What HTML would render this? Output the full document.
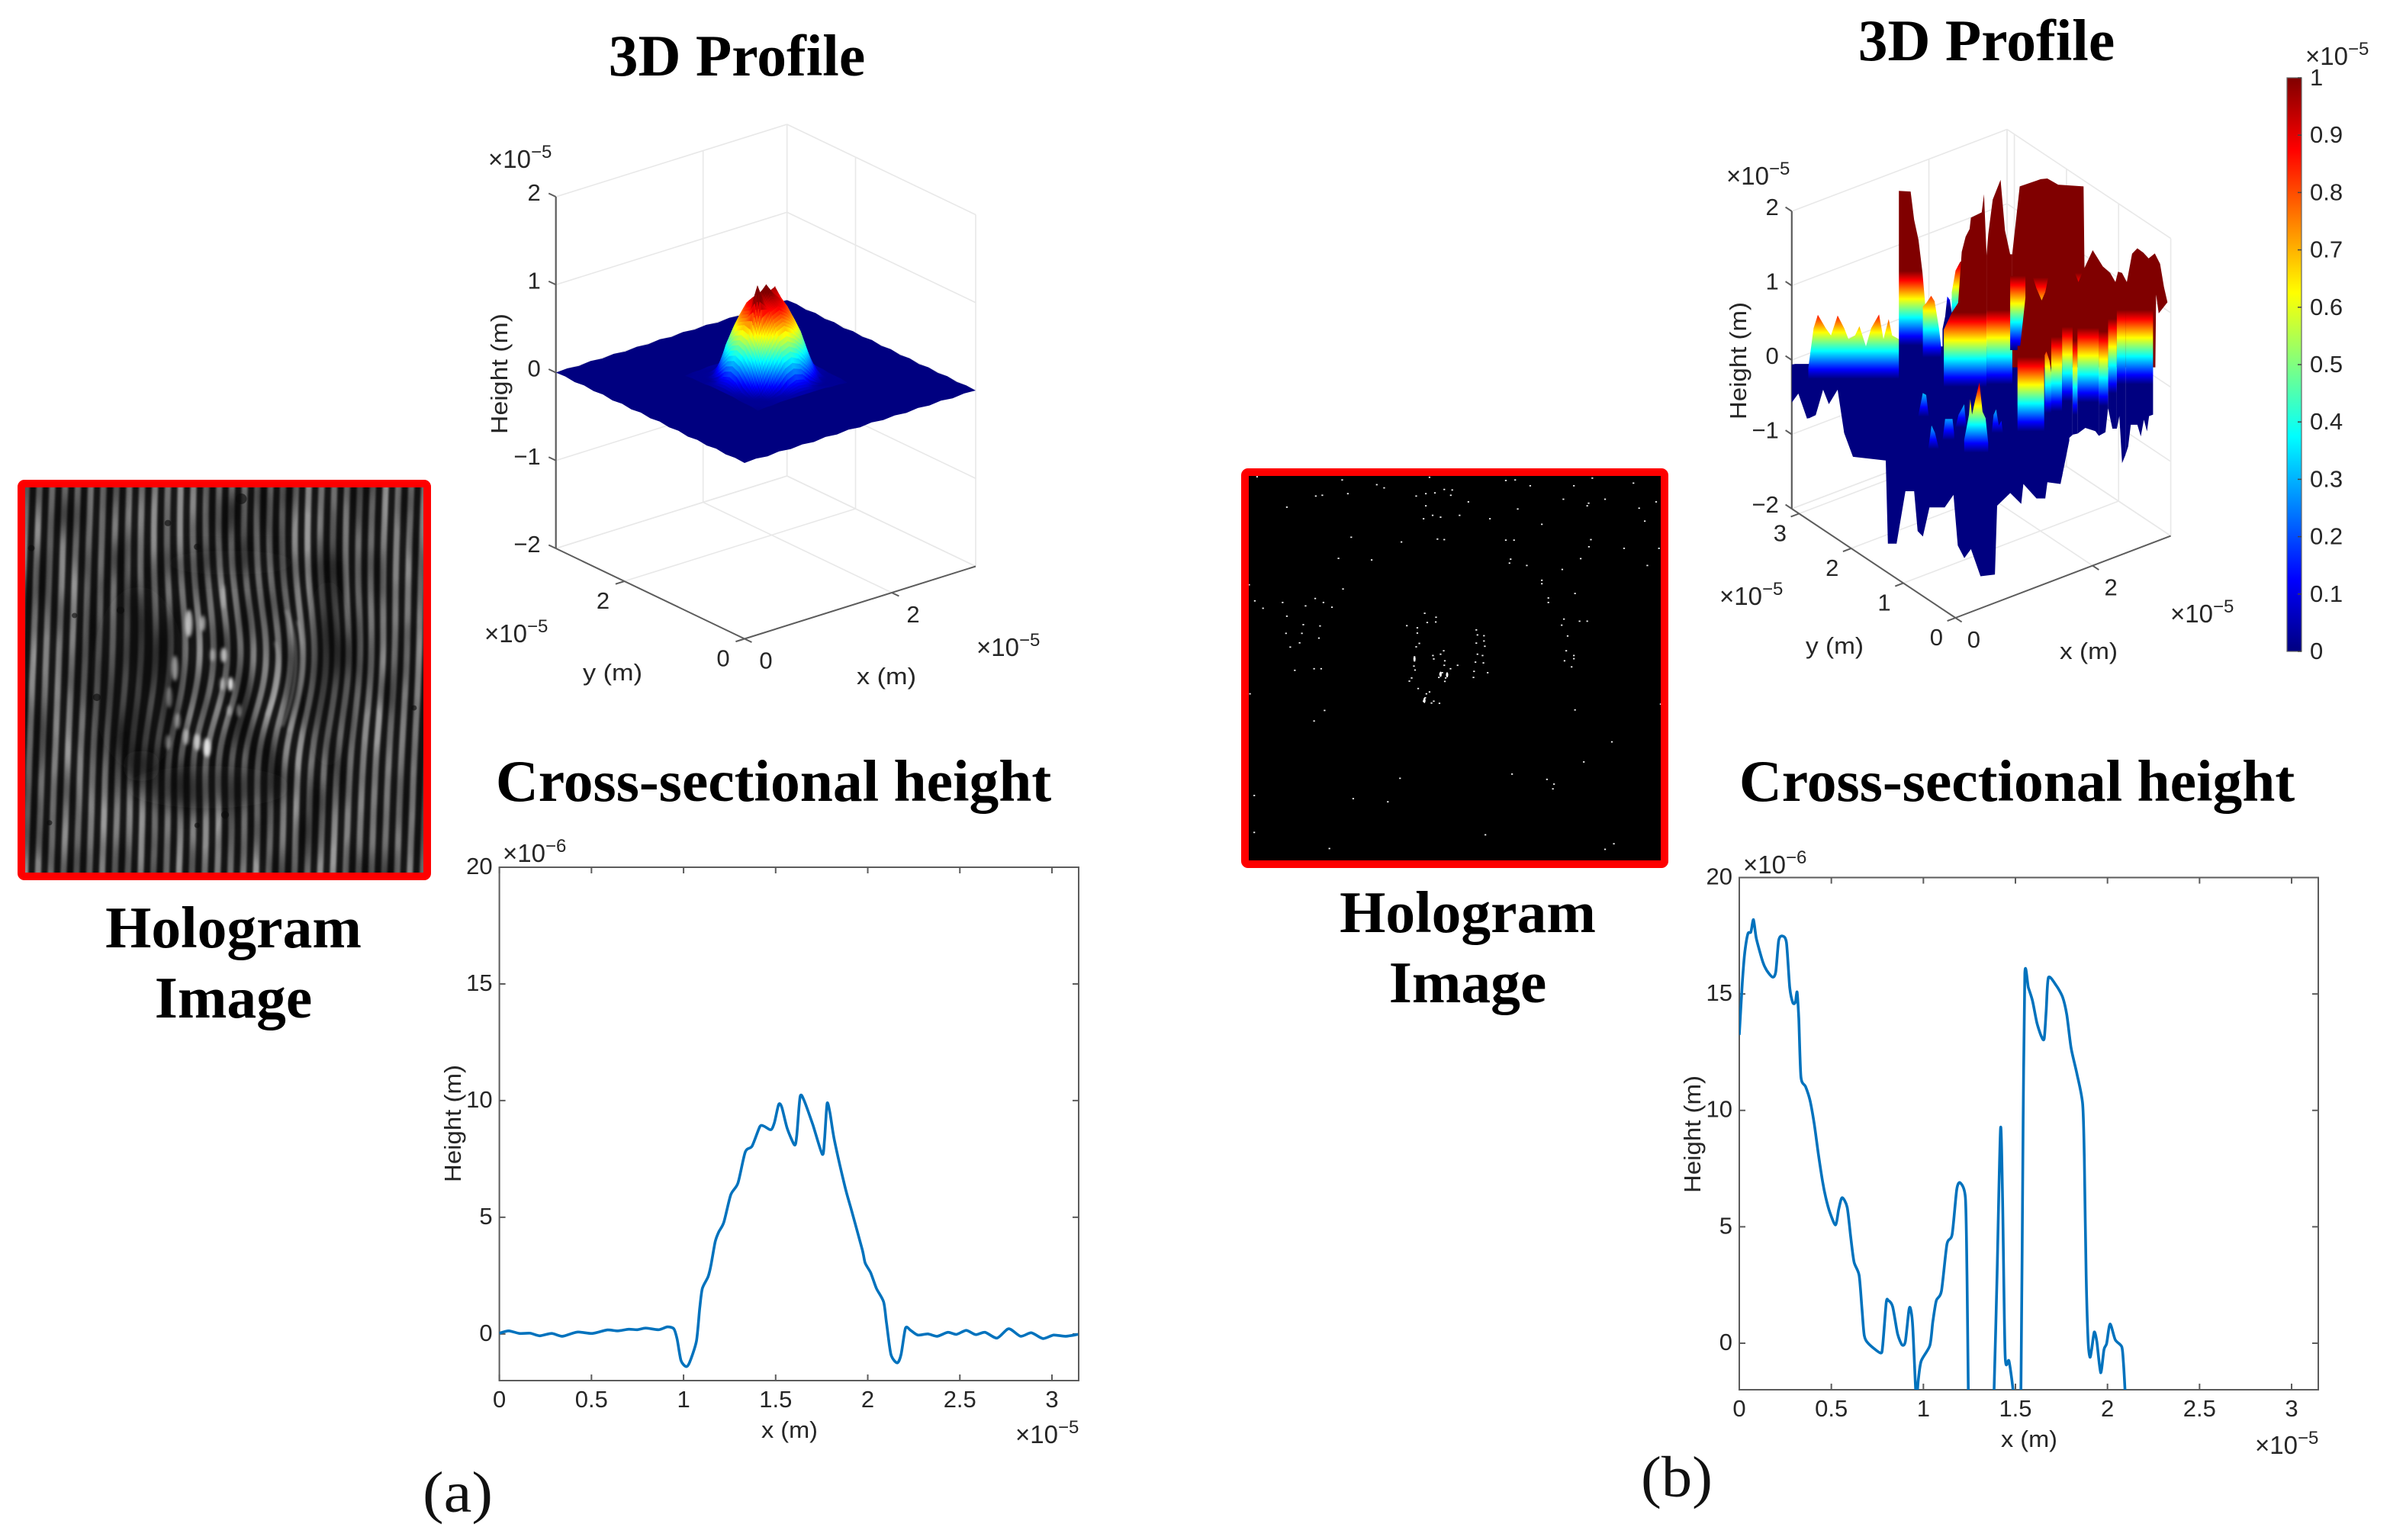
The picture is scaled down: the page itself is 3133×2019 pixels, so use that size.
<!DOCTYPE html>
<html>
<head>
<meta charset="utf-8">
<title>Hologram, 3D profile and cross-sectional height</title>
<style>
html,body{margin:0;padding:0;background:#fff;width:3133px;height:2019px;overflow:hidden}
svg{display:block}
.t{font-family:"Liberation Serif","Noto Serif CJK JP",serif;font-weight:bold;font-size:77.5px;fill:#000;text-anchor:middle}
.c{font-family:"Liberation Serif","Noto Serif CJK JP",serif;font-size:76px;fill:#111;text-anchor:middle}
.a{font-family:"Liberation Sans","Noto Sans CJK JP",sans-serif;font-size:33px;fill:#262626}
.h{font-size:31px}
.k{font-family:"Liberation Sans","Noto Sans CJK JP",sans-serif;font-size:31px;fill:#262626}
.e{font-size:24px}
</style>
</head>
<body>
<svg id="root" xmlns="http://www.w3.org/2000/svg" width="3133" height="2019" viewBox="0 0 3133 2019">
<defs id="defs">
<clipPath id="clipA"><rect x="654.6" y="1137" width="759.4" height="673"/></clipPath>
<clipPath id="clipB"><rect x="2280" y="1150.5" width="759" height="671.5"/></clipPath>
<clipPath id="clipH"><rect x="63" y="53" width="1437" height="1467"/></clipPath>
<filter id="soft" x="-5%" y="-5%" width="110%" height="110%"><feGaussianBlur stdDeviation="4"/></filter>
<filter id="softer" x="-60%" y="-60%" width="220%" height="220%"><feGaussianBlur stdDeviation="38"/></filter>
<filter id="glow" x="-80%" y="-80%" width="260%" height="260%"><feGaussianBlur stdDeviation="6"/></filter>
<filter id="mottle" x="0" y="0" width="100%" height="100%" color-interpolation-filters="sRGB"><feTurbulence type="fractalNoise" baseFrequency="0.009 0.0035" numOctaves="2" seed="7"/><feColorMatrix type="matrix" values="0 0 0 0 0 0 0 0 0 0 0 0 0 0 0 1.3 0 0 0 -.42"/></filter>
</defs>
<rect width="3133" height="2019" fill="#fff"/>

<g id="holoA"></g>
<rect x="28" y="634" width="532" height="515" rx="4" fill="none" stroke="#fe0000" stroke-width="10"/>
<g id="holoB"></g>
<rect x="1632" y="619" width="550" height="514" rx="4" fill="none" stroke="#fe0000" stroke-width="10"/>

<g id="plot3dA"></g>
<g id="plot3dB"></g>
<g id="colorbar"></g>
<g id="lineA"></g>
<g id="lineB"></g>

<text class="t" x="966" y="99">3D Profile</text>
<text class="t" x="2604" y="79">3D Profile</text>
<text class="t" x="1014" y="1050">Cross-sectional height</text>
<text class="t" x="2644" y="1050">Cross-sectional height</text>
<text class="t" x="306" y="1242">Hologram</text>
<text class="t" x="306" y="1334">Image</text>
<text class="t" x="1924" y="1222">Hologram</text>
<text class="t" x="1924" y="1314">Image</text>
<text class="c" x="600" y="1982" textLength="92" lengthAdjust="spacingAndGlyphs">(a)</text>
<text class="c" x="2198" y="1962" textLength="94" lengthAdjust="spacingAndGlyphs">(b)</text>

<text class="a" x="640" y="220">×10<tspan class="e" dy="-13">−5</tspan></text>
<text class="a" x="635" y="842">×10<tspan class="e" dy="-13">−5</tspan></text>
<text class="a" x="1280" y="860">×10<tspan class="e" dy="-13">−5</tspan></text>
<text class="a h" transform="translate(665,490) rotate(-90)" text-anchor="middle" textLength="158" lengthAdjust="spacingAndGlyphs">Height (m)</text>
<text class="a h" x="803" y="892" text-anchor="middle" textLength="78" lengthAdjust="spacingAndGlyphs">y (m)</text>
<text class="a h" x="1162" y="897" text-anchor="middle" textLength="78" lengthAdjust="spacingAndGlyphs">x (m)</text>

<text class="a" x="2263" y="242">×10<tspan class="e" dy="-13">−5</tspan></text>
<text class="a" x="2254" y="793">×10<tspan class="e" dy="-13">−5</tspan></text>
<text class="a" x="2845" y="816">×10<tspan class="e" dy="-13">−5</tspan></text>
<text class="a h" transform="translate(2289,473) rotate(-90)" text-anchor="middle" textLength="154" lengthAdjust="spacingAndGlyphs">Height (m)</text>
<text class="a h" x="2405" y="857" text-anchor="middle" textLength="76" lengthAdjust="spacingAndGlyphs">y (m)</text>
<text class="a h" x="2738" y="864" text-anchor="middle" textLength="76" lengthAdjust="spacingAndGlyphs">x (m)</text>
<text class="a" x="3022" y="85">×10<tspan class="e" dy="-13">−5</tspan></text>

<text class="a" x="659" y="1130">×10<tspan class="e" dy="-13">−6</tspan></text>
<text class="a" x="1331" y="1892">×10<tspan class="e" dy="-13">−5</tspan></text>
<text class="a h" x="1035" y="1885" text-anchor="middle" textLength="74" lengthAdjust="spacingAndGlyphs">x (m)</text>
<text class="a h" transform="translate(604,1473) rotate(-90)" text-anchor="middle" textLength="154" lengthAdjust="spacingAndGlyphs">Height (m)</text>

<text class="a" x="2285" y="1145">×10<tspan class="e" dy="-13">−6</tspan></text>
<text class="a" x="2956" y="1906">×10<tspan class="e" dy="-13">−5</tspan></text>
<text class="a h" x="2660" y="1897" text-anchor="middle" textLength="74" lengthAdjust="spacingAndGlyphs">x (m)</text>
<text class="a h" transform="translate(2229,1487) rotate(-90)" text-anchor="middle" textLength="154" lengthAdjust="spacingAndGlyphs">Height (m)</text>
</svg>

<script>
/* ---------- tick data ---------- */
const lineXTicks=[0,0.5,1,1.5,2,2.5,3];
const lineXLabels=['0','0.5','1','1.5','2','2.5','3'];
const lineYTicks=[0,5,10,15,20];
const lineYLabels=['0','5','10','15','20'];
const zTicks=[-2,-1,0,1,2];
const zLabels=['−2','−1','0','1','2'];
const xTicks3dA=[0,2];
const yTicks3dA=[0,2];
const xTicks3dB=[0,2];
const yTicks3dB=[0,1,2,3];
const colorbarTicks=[0,0.1,0.2,0.3,0.4,0.5,0.6,0.7,0.8,0.9,1];
const colorbarLabels=['0','0.1','0.2','0.3','0.4','0.5','0.6','0.7','0.8','0.9','1'];

/* ---------- cross-section (a): x in 1e-5 m, height in 1e-6 m ---------- */
const sectionAX=[0,.051,.109,.167,.219,.284,.342,.423,.505,.586,.644,.702,.749,.795,.865,.912,.947,.965,.986,1.014,1.033,1.07,1.088,1.102,1.133,1.149,1.172,1.191,1.219,1.256,1.295,1.335,1.372,1.414,1.435,1.474,1.493,1.516,1.533,1.563,1.602,1.614,1.633,1.656,1.702,1.753,1.765,1.779,1.795,1.819,1.877,1.912,1.97,1.986,2.016,2.047,2.086,2.102,2.126,2.16,2.181,2.205,2.233,2.272,2.326,2.377,2.435,2.481,2.535,2.586,2.637,2.702,2.765,2.83,2.888,2.951,3.009,3.074,3.142];
const sectionAH=[.03,.13,.02,.03,-.08,.02,-.1,.08,.02,.17,.13,.2,.18,.25,.18,.3,.22,-.22,-1.14,-1.4,-1.22,-.3,1.12,1.95,2.45,2.95,3.96,4.37,4.79,5.96,6.46,7.8,8.05,8.88,8.91,8.75,9.05,9.83,9.72,8.8,8.1,8.46,10.17,9.97,8.96,7.7,8.3,9.87,9.47,8.3,6.29,5.29,3.62,3.04,2.62,1.95,1.37,.45,-.88,-1.24,-.88,.25,.15,-.05,0,-.1,.07,-.02,.15,-.03,.07,-.18,.22,-.1,.05,-.2,-.05,-.1,-.02];

/* ---------- cross-section (b) ---------- */
const sectionBX=[0,.016,.03,.047,.063,.077,.093,.128,.151,.181,.198,.214,.233,.256,.274,.291,.305,.314,.323,.335,.36,.384,.407,.43,.453,.47,.493,.523,.54,.558,.586,.605,.623,.651,.667,.679,.702,.767,.779,.798,.809,.833,.86,.884,.902,.921,.93,.942,.958,.965,.972,.988,1.035,1.051,1.07,1.098,1.128,1.156,1.181,1.2,1.228,1.237,1.244,1.251,1.372,1.384,1.4,1.419,1.43,1.444,1.465,1.488,1.5,1.516,1.53,1.542,1.551,1.57,1.593,1.616,1.64,1.656,1.667,1.679,1.721,1.756,1.779,1.802,1.833,1.865,1.874,1.884,1.895,1.905,1.914,1.928,1.942,1.963,1.981,1.995,2.014,2.042,2.077,2.086,2.095,2.107];
const sectionBH=[13.24,15.45,16.79,17.59,17.66,18.19,17.37,16.37,15.99,15.72,15.95,17.29,17.49,17.21,15.28,14.62,14.65,15.08,13.95,11.44,11.02,10.43,9.43,8.09,6.92,6.25,5.59,5.08,5.75,6.25,5.84,4.58,3.49,2.91,1.4,.32,-.02,-.42,-.1,1.74,1.84,1.57,.4,-.07,.07,1.4,1.49,.74,-1.99,-2.3,-1.6,-.77,-.1,.9,1.82,2.24,4.25,4.67,6.59,6.89,6.25,2.91,-1.99,-3.8,-3.8,-1.99,2.91,9.23,6.25,-.52,-.77,-2.1,-3.8,-3.8,-1.99,9.6,15.87,15.28,14.7,13.78,13.19,13.08,14.28,15.7,15.37,14.87,14.11,12.69,11.6,10.27,7.93,2.91,.07,-.6,-.27,.48,.07,-1.27,-.27,-.02,.82,.15,-.15,-.77,-1.99,-3.8];

/* ---------- surface (a): height in 1e-5 m over x,y in 1e-5 m ---------- */
const bumpX=[1,1.1,1.2,1.3,1.4,1.5,1.6,1.7,1.8,1.9,2,2.1,2.2];
const bumpY=[1,1.1,1.2,1.3,1.4,1.5,1.6,1.7,1.8,1.9,2,2.1,2.2];
const bumpRow0=[.01,.02,.02,.03,.03,.03,.03,.03,.03,.03,.02,.02,.01];
const bumpRow1=[.02,.02,.02,.03,.05,.12,.16,.14,.05,.02,.02,.02,.02];
const bumpRow2=[.02,.02,.03,.12,.28,.41,.45,.4,.3,.14,.03,.02,.02];
const bumpRow3=[.02,.03,.14,.38,.54,.67,.71,.65,.56,.37,.13,.03,.02];
const bumpRow4=[.03,.05,.3,.56,.73,.86,.9,.83,.71,.54,.28,.05,.03];
const bumpRow5=[.03,.13,.4,.68,1.15,.9,.95,.93,.82,.64,.41,.12,.03];
const bumpRow6=[.03,.16,.44,.7,.88,.95,1.08,.95,.88,.7,.44,.16,.03];
const bumpRow7=[.03,.13,.4,.66,.84,.93,.95,.93,.97,.66,.4,.13,.03];
const bumpRow8=[.03,.05,.29,.55,.72,.84,.88,.84,.72,.55,.29,.05,.03];
const bumpRow9=[.02,.02,.13,.38,.55,.66,.7,.66,.55,.38,.13,.02,.02];
const bumpRow10=[.02,.02,.03,.13,.29,.41,.44,.41,.29,.13,.03,.02,.02];
const bumpRow11=[.02,.02,.02,.02,.05,.13,.16,.13,.05,.02,.02,.02,.02];
const bumpRow12=[.01,.02,.02,.03,.03,.03,.03,.03,.03,.03,.02,.02,.01];
const planeRipple=[0,.008,-.006,.009,-.007,.006,-.009,.007,-.005,.009,-.006,.008,-.007,.006,-.008,.007,-.005,.008,-.006,.007,0];

/* ---------- surface (b): height sections through the surface,
   each runs along x while y follows y0 + viewSlope*x; values in 1e-5 m ---------- */
const pitY=3.53;
const pitX=[.635,1.122,2.306,2.765];
const pitTop=[-.584,0,0,-.292];
const pitBotX=[.635,.676,.757,1.061,1.081,1.162,1.244,1.325,1.357,1.406,1.467,1.609,1.69,1.73,1.791,1.852,1.941,2.075,2.095,2.217,2.319,2.339,2.461,2.542,2.562,2.684,2.765];
const pitBot=[-.584,-1.168,-1.484,-1.533,-2.652,-2.652,-1.946,-1.946,-2.482,-2.555,-2.165,-2.165,-1.995,-2.676,-2.847,-2.725,-3.09,-3.066,-2.141,-1.971,-2.117,-1.849,-2.044,-2.044,-1.825,-1.849,-1.265];

const farEdgeY=3.53;
const farEdgeX=[.189,.221,.351];
const farEdgeTop=[-.243,-.234,-.234];
const farEdgeBotX=[.189,.25,.331,.351];
const farEdgeBot=[-.754,-.633,-.973,-.949];

const backLowY=2.598;
const backLowX=[-.109,-.06,-.02,.053,.102,.163,.224,.264,.325,.366,.426,.475,.548,.589,.637,.67,.731,.771];
const backLowTop=[.146,.681,.861,.681,.584,.852,.681,.535,.584,.706,.438,.681,.866,.535,.803,.584,.535,.535];
const backLowBotX=[-.109,-.04,.029,.082,.163,.224,.771];
const backLowBot=[-.535,-.487,-.146,-.341,-.146,-.73,-.827];

const towerY=3.561;
const towerX=[1.198,1.307,1.34,1.38,1.417,1.453];
const towerTop=[2.078,2.069,1.69,1.42,.983,.375];
const towerBotX=[1.198,1.453];
const towerBot=[-.6,-.6];

const shoulderY=3.219;
const shoulderX=[1.255,1.287,1.332,1.364,1.405,1.425];
const shoulderTop=[.681,.73,.827,.754,.389,.146];
const shoulderBotX=[1.255,1.425];
const shoulderBot=[-.438,-.438];

const blueSpikeY=4.658;
const blueSpikeX=[2.134,2.159,2.179,2.203,2.22,2.244];
const blueSpikeTop=[-.292,-.122,.146,.097,-.073,-.292];
const blueSpikeBotX=[2.134,2.244];
const blueSpikeBot=[-.6,-.6];

const flankY=3.913;
const flankX=[1.859,1.895,1.936,1.964];
const flankTop=[.55,.842,.954,.988];
const flankBotX=[1.859,1.964];
const flankBot=[.015,.015];

const plateauY=-.197;
const plateauX=[.432,.501,.696,.757,.858,1.094,1.102,1.179,1.272,1.341,1.39,1.414,1.451,1.495,1.544,1.593,1.649,1.698,1.755,1.804,1.84,1.873];
const plateauTop=[2.993,3.893,3.99,4,3.917,3.893,2.798,3.036,2.818,2.73,2.608,2.745,2.73,2.608,2.988,3.061,3.002,2.925,2.993,2.852,2.54,2.336];
const plateauBotX=[.432,1.76,1.767,1.791,1.873];
const plateauBot=[1.46,1.46,2.438,2.185,2.336];

const spireLeftY=2.37;
const spireLeftX=[1.039,1.112,1.172,1.205,1.241,1.278,1.29,1.391,1.412,1.436];
const spireLeftTop=[.769,.993,1.129,1.815,2.019,2.122,2.273,2.345,2.589,1.762];
const spireLeftBotX=[1.039,1.436];
const spireLeftBot=[-.477,-.477];

const spireRightY=2.443;
const spireRightX=[1.471,1.487,1.528,1.601,1.642,1.69,1.71];
const spireRightTop=[1.727,2.019,2.482,2.749,2.068,1.747,1.747];
const spireRightBotX=[1.471,1.71];
const spireRightBot=[-.511,-.511];

const gapColumnY=3.426;
const gapColumnX=[2.166,2.308];
const gapColumnTop=[.998,.998];
const gapColumnBotX=[2.166,2.255,2.308];
const gapColumnBot=[0,0,.706];

const pocketY=3.375;
const pocketX=[2.353,2.495];
const pocketTop=[.998,.998];
const pocketBotX=[2.353,2.386,2.434,2.467,2.495];
const pocketBot=[.998,.852,.691,.803,.998];

const notchY=3.509;
const notchX=[2.808,2.873];
const notchTop=[.993,.993];
const notchBotX=[2.808,2.84,2.873];
const notchBot=[.993,.876,.993];

const hump1Y=1.512;
const hump1X=[.347,.375,.428,.46,.493];
const hump1Top=[-.219,-.073,.316,.292,-.107];
const hump2Y=.58;
const hump2X=[.03,.058,.09,.127];
const hump2Top=[.024,.316,.219,0];
const hump3Y=.84;
const hump3X=[.285,.31,.379,.403];
const hump3Top=[-.024,.282,.282,-.024];
const hump4Y=1.2;
const hump4X=[.569,.609,.662,.683];
const hump4Top=[-.073,.17,.311,-.024];
const peakY=.476;
const peakX=[.311,.356,.368,.384,.413,.453,.482,.51,.534];
const peakTop=[.17,.511,.72,.511,.706,.944,.55,.462,.136];
const hump5Y=1.045;
const hump5X=[.835,.859,.883,.908,.932,.96];
const hump5Top=[-.097,.243,.316,.097,.161,-.146];

const wall1Y=1.087;
const wall1X=[1.102,1.35];
const wall1Top=[1.15,1.15];
const wall1Bot=[-.603,-.603];
const wall1bY=1.615;
const wall1bX=[1.61,1.626,1.654,1.675];
const wall1bTop=[.779,.827,.706,.511];
const wall1bBotX=[1.61,1.675];
const wall1bBot=[-.852,-.852];
const wall2Y=1.667;
const wall2X=[1.696,1.797];
const wall2Top=[1.15,1.15];
const wall2Bot=[-.876,-.876];
const wall3Y=1.956;
const wall3X=[1.937,2.034];
const wall3Top=[1.15,1.15];
const wall3BotX=[1.937,1.982,2.034];
const wall3Bot=[-1.012,-.521,-.453];
const wall3bY=1.563;
const wall3bX=[1.844,1.889];
const wall3bTop=[1.15,1.15];
const wall3bBot=[-.268,-.253];
const wall4Y=1.925;
const wall4X=[2.064,2.263];
const wall4Top=[1.15,1.15];
const wall4BotX=[2.064,2.137,2.23,2.263];
const wall4Bot=[-.423,-.345,-.389,-.453];
const wall5Y=1.822;
const wall5X=[2.213,2.298];
const wall5Top=[1.15,1.15];
const wall5BotX=[2.213,2.274,2.298];
const wall5Bot=[-.404,-.355,-.034];
const wall6Y=2.184;
const wall6X=[2.474,2.555];
const wall6Top=[1.15,1.15];
const wall6BotX=[2.474,2.514,2.555];
const wall6Bot=[-.204,-.477,-.477];
const wall7Y=2.443;
const wall7X=[2.68,2.761];
const wall7Top=[1.15,1.15];
const wall7BotX=[2.68,2.704,2.729,2.761];
const wall7Bot=[-.599,-.428,-1.061,-.949];
const wall8Y=2.443;
const wall8X=[2.761,3.017];
const wall8Top=[1.15,1.12];
const wall8BotX=[2.761,2.786,2.81,2.871,2.903,2.932,2.96,2.98,3.017];
const wall8Bot=[-.949,-.837,-.545,-.545,-.701,-.477,-.633,-.428,-.409];

/* ---------- thresholded hologram speckle (image coordinates) ---------- */
const specklePoints=[[75,58],[375,70],[683,60],[952,72],[985,70],[1257,63],[497,88],[523,100],[735,106],[763,108],[1038,92],[1192,92],[1402,82],[282,131],[305,128],[395,122],[636,131],[670,122],[702,119],[758,128],[1155,143],[1302,143],[1244,158],[1239,168],[1482,153],[180,173],[670,168],[820,153],[994,180],[1422,177],[694,204],[722,211],[789,204],[662,217],[896,217],[1442,226],[1079,238],[407,287],[584,305],[711,294],[735,296],[952,298],[981,298],[1252,296],[1245,323],[1369,329],[1492,329],[362,367],[479,373],[969,370],[965,385],[1026,394],[1216,368],[1451,394],[1151,409],[1079,450],[1079,463],[47,467],[378,483],[1196,500],[1102,517],[1102,534],[67,528],[280,519],[165,534],[309,534],[246,547],[339,552],[96,556],[180,586],[238,618],[297,623],[177,651],[233,651],[293,669],[225,687],[192,703],[208,791],[276,785],[301,785],[1157,597],[1149,620],[1212,605],[1239,605],[1170,661],[1165,717],[1192,735],[1192,747],[1159,755],[1184,778],[50,880],[313,943],[276,983],[1196,941],[1498,919],[1326,1062],[1227,1138],[974,1184],[579,1200],[1097,1204],[1122,1222],[1118,1240],[65,1265],[414,1277],[536,1289],[65,1405],[880,1414],[330,1466],[1333,1448],[1302,1469],[666,575],[706,590],[675,610],[705,608],[603,622],[640,630],[640,650],[848,638],[852,657],[875,660],[875,680],[878,700],[647,689],[848,688],[636,702],[733,717],[722,730],[695,735],[698,748],[870,735],[852,730],[630,740],[630,755],[628,775],[737,755],[735,772],[782,772],[845,760],[873,763],[757,785],[632,790],[840,795],[888,800],[720,805],[728,800],[745,805],[716,818],[740,820],[620,820],[612,832],[838,818],[737,833],[643,860],[683,873],[672,880],[668,895],[662,908],[690,915],[698,908],[718,916]];
const speckleBlobs=[[722,806],[745,808],[630,748],[665,905]];

/* ---------- hologram fringe image features (image coordinates) ---------- */
const darkZones=[[470,780,170,350,.45],[1150,760,90,360,.42],[720,1190,300,80,.5],[800,340,260,45,.4],[480,1110,70,60,.75]];
const brightBlobs=[[650,570,13,52,.75],[700,570,9,30,.65],[775,690,11,28,.75],[735,690,9,24,.5],[800,800,10,26,.95],[770,800,8,24,.6],[600,740,11,48,.6],[580,850,10,40,.4],[715,1040,13,36,.9],[680,1020,12,32,.7],[640,1000,11,30,.55],[575,1020,9,28,.4],[610,940,10,30,.45],[830,900,8,24,.45],[795,900,8,20,.45],[775,470,7,46,.35]];
const brightArcs=['M1000 520 Q1075 720 985 960','M1040 560 Q1090 730 1010 980','M960 640 Q1000 760 930 920'];
const pitMarks=[[838,98,20],[85,285,12],[575,190,12],[680,280,12],[405,520,14],[320,850,14],[780,1295,14],[680,1335,10],[150,1325,10],[1458,890,10],[240,540,10]];

/* ---------- helpers ---------- */
const NS='http://www.w3.org/2000/svg';
function mk(tag,attrs,parent){
  const e=document.createElementNS(NS,tag);
  for(const k in attrs)e.setAttribute(k,attrs[k]);
  if(parent)parent.appendChild(e);
  return e;
}
function clamp(v){return Math.max(0,Math.min(1,v));}
function jet(t){
  t=clamp(t);
  const r=clamp(1.5-Math.abs(4*t-3)),g=clamp(1.5-Math.abs(4*t-2)),b=clamp(1.5-Math.abs(4*t-1));
  return 'rgb('+Math.round(r*255)+','+Math.round(g*255)+','+Math.round(b*255)+')';
}
function addJetStops(grad){
  for(let i=0;i<=24;i++){
    mk('stop',{offset:i/24,'stop-color':jet(i/24)},grad);
  }
}
const defs=document.getElementById('defs');
const AXIS='#5c5c5c',GRID='#e8e8e8';

/* ---------- line charts ---------- */
function smoothPath(pts){
  let d='M'+pts[0][0].toFixed(1)+' '+pts[0][1].toFixed(1);
  for(let i=0;i<pts.length-1;i++){
    const p0=pts[Math.max(0,i-1)],p1=pts[i],p2=pts[i+1],p3=pts[Math.min(pts.length-1,i+2)];
    d+=' C'+(p1[0]+(p2[0]-p0[0])/8).toFixed(1)+' '+(p1[1]+(p2[1]-p0[1])/8).toFixed(1)+' '+(p2[0]-(p3[0]-p1[0])/8).toFixed(1)+' '+(p2[1]-(p3[1]-p1[1])/8).toFixed(1)+' '+p2[0].toFixed(1)+' '+p2[1].toFixed(1);
  }
  return d;
}
function drawLineChart(g,L,R,T,B,xs,hs,clip){
  const xS=v=>L+v/3.145*(R-L);
  const yS=v=>B-(v+2)/22*(B-T);
  const frame=mk('rect',{x:L,y:T,width:R-L,height:B-T,fill:'none',stroke:AXIS,'stroke-width':2},g);
  
  
  lineXTicks.forEach((v,i)=>{
    const x=xS(v);
    const t1=mk('path',{d:'M'+x+' '+B+'V'+(B-8)+'M'+x+' '+T+'V'+(T+8),stroke:AXIS,'stroke-width':2,fill:'none'},g);
    
    
    const lab=mk('text',{class:'k',x:x,y:B+35,'text-anchor':'middle'},g);
    lab.textContent=lineXLabels[i];
    
    
  });
  lineYTicks.forEach((v,i)=>{
    const y=yS(v);
    const t2=mk('path',{d:'M'+L+' '+y+'H'+(L+8)+'M'+R+' '+y+'H'+(R-8),stroke:AXIS,'stroke-width':2,fill:'none'},g);
    
    
    const lab=mk('text',{class:'k',x:L-9,y:y+9,'text-anchor':'end'},g);
    lab.textContent=lineYLabels[i];
    
    
  });
  const pts=xs.map((x,i)=>[xS(x),yS(hs[i])]);
  const line=mk('path',{d:smoothPath(pts),fill:'none',stroke:'#0072bd','stroke-width':3.6,'stroke-linejoin':'round','clip-path':'url(#'+clip+')'},g);
  
  
}
drawLineChart(document.getElementById('lineA'),654.6,1414,1137,1810,sectionAX,sectionAH,'clipA');
drawLineChart(document.getElementById('lineB'),2280,3039,1150.5,1822,sectionBX,sectionBH,'clipB');

/* ---------- 3D axes ---------- */
const XMAX=3.14,YMAX=3.14;
function projector(ox,oy,xdx,xdy,ydx,ydy,zu){
  return (x,y,z)=>[ox+x/XMAX*xdx+y/YMAX*ydx, oy+x/XMAX*xdy+y/YMAX*ydy-(z+2)*zu];
}
const projA=projector(976,837.5,303,-95,-247.3,-118.5,115.25);
const projB=projector(2563.4,810,282.2,-107.4,-214.6,-143,97.5);
function seg(g,p,a,b,color,w,name){
  const A=p(a[0],a[1],a[2]),B=p(b[0],b[1],b[2]);
  const l=mk('line',{x1:A[0],y1:A[1],x2:B[0],y2:B[1],stroke:color,'stroke-width':w},g);
  
  
}
function drawAxes3d(g,p,xT,yT,xOff,yOff,zOff){
  const X=XMAX,Y=YMAX;
  zTicks.forEach(z=>{
    seg(g,p,[0,Y,z],[X,Y,z],GRID,1.6,'grid-line');
    seg(g,p,[X,Y,z],[X,0,z],GRID,1.6,'grid-line');
  });
  xT.concat([X]).forEach(x=>{
    if(x===0)return;
    seg(g,p,[x,Y,-2],[x,Y,2],GRID,1.6,'grid-line');
    seg(g,p,[x,0,-2],[x,Y,-2],GRID,1.6,'grid-line');
  });
  yT.concat([Y]).forEach(y=>{
    if(y===0)return;
    seg(g,p,[X,y,-2],[X,y,2],GRID,1.6,'grid-line');
    seg(g,p,[0,y,-2],[X,y,-2],GRID,1.6,'grid-line');
  });
  seg(g,p,[X,0,-2],[X,0,2],GRID,1.6,'grid-line');
  seg(g,p,[0,Y,-2],[0,Y,2],AXIS,2.2,'z-axis-line');
  seg(g,p,[0,0,-2],[X,0,-2],AXIS,2,'x-axis-line');
  seg(g,p,[0,0,-2],[0,Y,-2],AXIS,2,'y-axis-line');
  zTicks.forEach((z,i)=>{
    seg(g,p,[0,Y,z],[0,Y+.12,z],AXIS,2,'z-tick');
    const P=p(0,Y,z);
    const lab=mk('text',{class:'k',x:P[0]-zOff,y:P[1]+5,'text-anchor':'end'},g);
    lab.textContent=zLabels[i];
    
    
  });
  xT.forEach(x=>{
    seg(g,p,[x,0,-2],[x,-.12,-2],AXIS,2,'x-tick');
    const P=p(x,0,-2);
    const lab=mk('text',{class:'k',x:P[0]+xOff[0],y:P[1]+xOff[1],'text-anchor':'middle'},g);
    lab.textContent=String(x);
    
    
  });
  yT.forEach(y=>{
    seg(g,p,[0,y,-2],[-.12,y,-2],AXIS,2,'y-tick');
    const P=p(0,y,-2);
    const lab=mk('text',{class:'k',x:P[0]+yOff[0],y:P[1]+yOff[1],'text-anchor':'middle'},g);
    lab.textContent=String(y);
    
    
  });
}
const g3a=document.getElementById('plot3dA');
const g3b=document.getElementById('plot3dB');
drawAxes3d(g3a,projA,xTicks3dA,yTicks3dA,[28,39],[-28,36],20);
drawAxes3d(g3b,projB,xTicks3dB,yTicks3dB,[24,39],[-25,36],17);

/* ---------- surface (a) ---------- */
(function(){
  const p=projA,n=planeRipple.length-1,pts=[];
  for(let i=0;i<=n;i++)pts.push(p(i/n*XMAX,0,planeRipple[i]));
  for(let i=1;i<=n;i++)pts.push(p(XMAX,i/n*YMAX,planeRipple[n-i]));
  for(let i=1;i<=n;i++)pts.push(p((n-i)/n*XMAX,YMAX,planeRipple[i]));
  for(let i=1;i<n;i++)pts.push(p(0,(n-i)/n*YMAX,planeRipple[n-i]));
  const plane=mk('polygon',{points:pts.map(q=>q[0].toFixed(1)+','+q[1].toFixed(1)).join(' '),fill:jet(0)},g3a);
  
  
  const rows=[bumpRow0,bumpRow1,bumpRow2,bumpRow3,bumpRow4,bumpRow5,bumpRow6,bumpRow7,bumpRow8,bumpRow9,bumpRow10,bumpRow11,bumpRow12];
  const SUB=5;
  function bil(u,v){
    const i=Math.min(Math.floor(u),bumpX.length-2),j=Math.min(Math.floor(v),bumpY.length-2);
    const a=u-i,b=v-j;
    return (rows[j][i]*(1-a)+rows[j][i+1]*a)*(1-b)+(rows[j+1][i]*(1-a)+rows[j+1][i+1]*a)*b;
  }
  function xAt(u){const i=Math.min(Math.floor(u),bumpX.length-2);return bumpX[i]+(bumpX[i+1]-bumpX[i])*(u-i);}
  function yAt(v){const j=Math.min(Math.floor(v),bumpY.length-2);return bumpY[j]+(bumpY[j+1]-bumpY[j])*(v-j);}
  const NU=(bumpX.length-1)*SUB,NV=(bumpY.length-1)*SUB;
  for(let jj=NV-1;jj>=0;jj--){
    for(let ii=NU-1;ii>=0;ii--){
      const u0=ii/SUB,u1=(ii+1)/SUB,v0=jj/SUB,v1=(jj+1)/SUB;
      const z00=bil(u0,v0),z10=bil(u1,v0),z11=bil(u1,v1),z01=bil(u0,v1);
      const c=jet((z00+z10+z11+z01)/4);
      const P=[p(xAt(u0),yAt(v0),z00),p(xAt(u1),yAt(v0),z10),p(xAt(u1),yAt(v1),z11),p(xAt(u0),yAt(v1),z01)];
      const q=mk('polygon',{points:P.map(o=>o[0].toFixed(1)+','+o[1].toFixed(1)).join(' '),fill:c,stroke:c,'stroke-width':1},g3a);
      
      
    }
  }
})();

/* ---------- surface (b): sections painted back to front ---------- */
const viewSlope=-(107.4/143);
const sections=[
  [pitY,pitX,pitTop,pitBotX,pitBot],
  [farEdgeY,farEdgeX,farEdgeTop,farEdgeBotX,farEdgeBot],
  [backLowY,backLowX,backLowTop,backLowBotX,backLowBot],
  [towerY,towerX,towerTop,towerBotX,towerBot],
  [shoulderY,shoulderX,shoulderTop,shoulderBotX,shoulderBot],
  [blueSpikeY,blueSpikeX,blueSpikeTop,blueSpikeBotX,blueSpikeBot],
  [flankY,flankX,flankTop,flankBotX,flankBot],
  [plateauY,plateauX,plateauTop,plateauBotX,plateauBot],
  [spireLeftY,spireLeftX,spireLeftTop,spireLeftBotX,spireLeftBot],
  [spireRightY,spireRightX,spireRightTop,spireRightBotX,spireRightBot],
  [gapColumnY,gapColumnX,gapColumnTop,gapColumnBotX,gapColumnBot],
  [pocketY,pocketX,pocketTop,pocketBotX,pocketBot],
  [notchY,notchX,notchTop,notchBotX,notchBot],
  [hump1Y,hump1X,hump1Top,null,null],
  [hump2Y,hump2X,hump2Top,null,null],
  [hump3Y,hump3X,hump3Top,null,null],
  [hump4Y,hump4X,hump4Top,null,null],
  [peakY,peakX,peakTop,null,null],
  [hump5Y,hump5X,hump5Top,null,null],
  [wall1Y,wall1X,wall1Top,wall1X,wall1Bot],
  [wall1bY,wall1bX,wall1bTop,wall1bBotX,wall1bBot],
  [wall2Y,wall2X,wall2Top,wall2X,wall2Bot],
  [wall3Y,wall3X,wall3Top,wall3BotX,wall3Bot],
  [wall3bY,wall3bX,wall3bTop,wall3bX,wall3bBot],
  [wall4Y,wall4X,wall4Top,wall4BotX,wall4Bot],
  [wall5Y,wall5X,wall5Top,wall5BotX,wall5Bot],
  [wall6Y,wall6X,wall6Top,wall6BotX,wall6Bot],
  [wall7Y,wall7X,wall7Top,wall7BotX,wall7Bot],
  [wall8Y,wall8X,wall8Top,wall8BotX,wall8Bot]
];
sections.forEach((s,idx)=>{
  const p=projB,y0=s[0];
  const at=(x,z)=>p(x,y0+viewSlope*x,z);
  const a=at(0,0),az=at(0,1);
  const grad=mk('linearGradient',{id:'sectionGrad'+idx,gradientUnits:'userSpaceOnUse',x1:a[0],y1:a[1],x2:az[0],y2:az[1]},defs);
  addJetStops(grad);
  const pts=[];
  s[1].forEach((x,i)=>pts.push(at(x,s[2][i])));
  if(s[3]){
    for(let i=s[3].length-1;i>=0;i--)pts.push(at(s[3][i],s[4][i]));
  }else{
    const last=s[1].length-1,floor=Math.min.apply(null,s[2])-.3;
    pts.push(at(s[1][last],floor));
    pts.push(at(s[1][0],floor));
  }
  const poly=mk('polygon',{points:pts.map(o=>o[0].toFixed(1)+','+o[1].toFixed(1)).join(' '),fill:'url(#sectionGrad'+idx+')','stroke-linejoin':'round'},g3b);
  
  
});

/* ---------- colorbar ---------- */
(function(){
  const g=document.getElementById('colorbar');
  const L=2998,R=3017,T=102,B=854;
  const grad=mk('linearGradient',{id:'cbGrad',x1:0,y1:1,x2:0,y2:0},defs);
  addJetStops(grad);
  const bar=mk('rect',{x:L,y:T,width:R-L,height:B-T,fill:'url(#cbGrad)',stroke:'#666','stroke-width':1.2},g);
  
  
  colorbarTicks.forEach((v,i)=>{
    const y=B-v*(B-T);
    const t=mk('line',{x1:R-5,x2:R,y1:y,y2:y,stroke:'#444','stroke-width':1.5},g);
    
    
    const lab=mk('text',{class:'k',x:3028,y:y+10},g);
    lab.textContent=colorbarLabels[i];
    
    
  });
})();

/* ---------- hologram (a) ---------- */
(function(){
  const host=document.getElementById('holoA');
  const s=mk('svg',{x:10,y:620,width:570,height:540,viewBox:'0 0 1560 1560',preserveAspectRatio:'none'},host);
  const clip=mk('g',{'clip-path':'url(#clipH)'},s);
  mk('rect',{x:63,y:53,width:1437,height:1467,fill:'#181818'},clip);
  const st=mk('g',{filter:'url(#soft)',fill:'none',stroke:'#9a9a9a','stroke-width':22},clip);
  for(let k=-4;k<38;k++){
    const x0=42+k*46;
    let d='';
    for(let y=30;y<=1550;y+=20){
      const ey=(y-720)/280,ex=(x0-950)/330,ey2=(y-700)/340,ex2=(x0-640)/230,ey3=(y-1050)/200,ex3=(x0-760)/300;
      const dx=48*Math.exp(-ey*ey-ex*ex)+26*Math.exp(-ey2*ey2-ex2*ex2)-22*Math.exp(-ey3*ey3-ex3*ex3);
      const x=x0-(y-800)*.035+dx;
      d+=(d?'L':'M')+x.toFixed(1)+' '+y;
    }
    const f=mk('path',{d:d,opacity:(k%3===0?.9:(k%3===1?1:.82))},st);
    
    
  }
  const mot=mk('rect',{x:63,y:53,width:1437,height:1467,fill:'#000',filter:'url(#mottle)'},clip);
  
  
  darkZones.forEach(z=>{
    const e=mk('ellipse',{cx:z[0],cy:z[1],rx:z[2],ry:z[3],fill:'#0c0c0c',opacity:z[4],filter:'url(#softer)'},clip);
    
    
  });
  brightBlobs.forEach(b=>{
    const e=mk('ellipse',{cx:b[0],cy:b[1],rx:b[2],ry:b[3],fill:'#f2f2f2',opacity:b[4],filter:'url(#glow)'},clip);
    
    
  });
  brightArcs.forEach(d=>{
    const a=mk('path',{d:d,fill:'none',stroke:'#b8b8b8','stroke-width':9,opacity:.55,filter:'url(#glow)'},clip);
    
    
  });
  pitMarks.forEach(m=>{
    const e=mk('circle',{cx:m[0],cy:m[1],r:m[2],fill:'#0a0a0a',opacity:.6},clip);
    
    
  });
})();

/* ---------- hologram (b) ---------- */
(function(){
  const host=document.getElementById('holoB');
  const bg=mk('rect',{x:1636,y:624,width:542,height:505,fill:'#000'},host);
  
  
  const s=mk('svg',{x:1620,y:605,width:580,height:540,viewBox:'0 0 1560 1560',preserveAspectRatio:'none'},host);
  specklePoints.forEach(d=>{
    const r=mk('rect',{x:d[0]-3,y:d[1]-2.5,width:6,height:5,fill:'#f4f4f4'},s);
    
    
  });
  speckleBlobs.forEach(d=>{
    const r=mk('ellipse',{cx:d[0],cy:d[1],rx:4,ry:10,fill:'#fff'},s);
    
    
  });
})();
</script>
</body>
</html>
